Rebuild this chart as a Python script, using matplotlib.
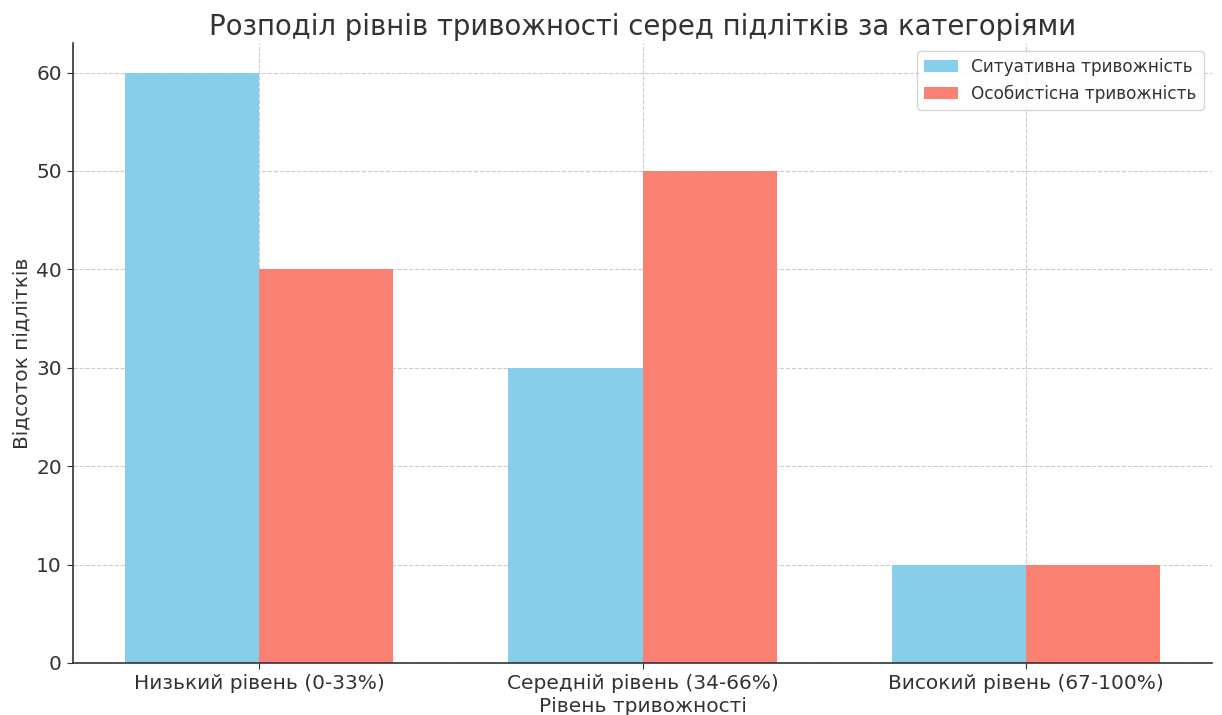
import matplotlib
matplotlib.use("Agg")
import matplotlib.pyplot as plt
import numpy as np

categories = ["Низький рівень (0-33%)", "Середній рівень (34-66%)", "Високий рівень (67-100%)"]
situational = [60, 30, 10]
personal = [40, 50, 10]
series_names = ["Ситуативна тривожність", "Особистісна тривожність"]

plt.rcParams['font.family'] = ['DejaVu Sans']
text_color = '#333333'

fig = plt.figure(figsize=(12.22, 7.15), dpi=100)
ax = fig.add_axes([73/1222, 1 - 663/715, (1212-73)/1222, (663-43)/715])

x = np.arange(len(categories))
w = 0.35
ax.bar(x - w/2, situational, w, color='skyblue', label=series_names[0], zorder=2)
ax.bar(x + w/2, personal, w, color='salmon', label=series_names[1], zorder=2)

ax.set_xticks(x)
ax.set_xticklabels(categories)
ax.tick_params(axis='both', labelsize=14.5, colors=text_color, length=4.5)
ax.tick_params(axis='both', color='#333333')
ax.set_xlabel("Рівень тривожності", fontsize=14.5, color=text_color, labelpad=3)
ax.set_ylabel("Відсоток підлітків", fontsize=14.5, color=text_color, labelpad=3)
ax.set_title("Розподіл рівнів тривожності серед підлітків за категоріями", fontsize=19.8, color=text_color, pad=6)
ax.grid(True, linestyle='--', color='#cccccc', linewidth=0.8, zorder=0)
ax.set_axisbelow(True)
for s in ['top', 'right']:
    ax.spines[s].set_visible(False)
for s in ['left', 'bottom']:
    ax.spines[s].set_color('#333333')
    ax.spines[s].set_linewidth(1.2)
leg = ax.legend(fontsize=12.2, loc='upper right', labelcolor=text_color, fancybox=True)

fig.savefig("out.png", dpi=100)
